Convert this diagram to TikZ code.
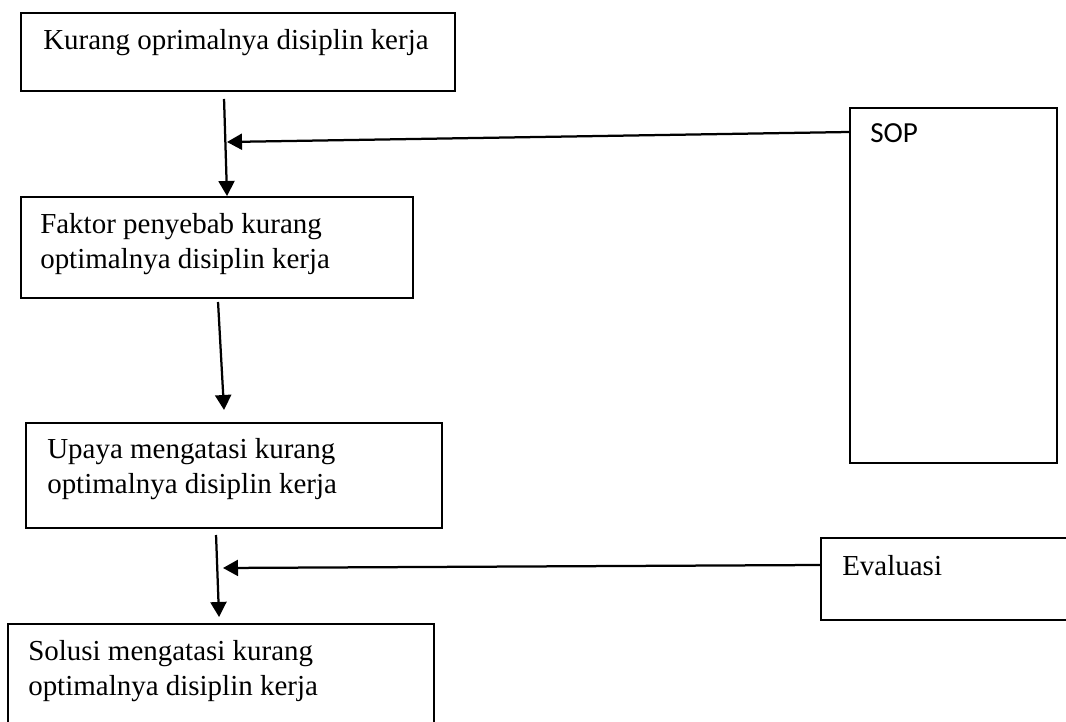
\documentclass[tikz,border=0pt]{standalone}
\usepackage{fontspec}
\setmainfont{Liberation Serif}
\newfontfamily\sopfont{Carlito}
\usetikzlibrary{arrows.meta,calc}

\tikzset{
    box/.style={draw, line width=1.4pt, anchor=north west, inner sep=0pt},
    txt/.style={anchor=base west, inner sep=0pt, align=left,
        font=\fontsize{20.6}{24.8}\selectfont},
    flow/.style={line width=1.6pt, -{Triangle[length=0.375cm, width=0.4cm]}}
}

\begin{document}
\begin{tikzpicture}[x=0.025cm, y=-0.025cm]

    \useasboundingbox (0,0) rectangle (1066,722);
    \clip (0,0) rectangle (1066,722);

    % Main flow boxes
    \node[box, minimum width=10.85cm, minimum height=1.95cm] (b1) at (20,12) {};
    \node[box, minimum width=9.8cm, minimum height=2.525cm] (b2) at (20,196) {};
    \node[box, minimum width=10.4cm, minimum height=2.625cm] (b3) at (25,422) {};
    \node[box, minimum width=10.65cm, minimum height=3.425cm] (b4) at (7,623) {};

    % Side boxes
    \node[box, minimum width=5.175cm, minimum height=8.875cm] (sop) at (849,107) {};
    \node[box, minimum width=7cm, minimum height=2.05cm] (ev) at (820,537) {};

    % Box texts (base = last line)
    \node[txt] (t1) at (43,50) {Kurang oprimalnya disiplin kerja};
    \node[txt] (t2) at (40,268) {Faktor penyebab kurang\\optimalnya disiplin kerja};
    \node[txt] (t3) at (47,493) {Upaya mengatasi kurang\\optimalnya disiplin kerja};
    \node[txt] (t4) at (28,695) {Solusi mengatasi kurang\\optimalnya disiplin kerja};
    \node[txt, font=\sopfont\fontsize{20.7}{24}\selectfont] (tsop) at (870,143) {SOP};
    \node[txt] (tev) at (842,575) {Evaluasi};

    % Vertical arrows
    \draw[flow] ($(b1.south)+(-14,7)$) -- ($(b2.north)+(10,0)$);
    \draw[flow] ($(b2.south)+(1,3)$) -- ($(b3.north)+(-10,-12)$);
    \draw[flow] ($(b3.south)+(-18,6)$) -- ($(b4.north)+(-2,-6)$);

    % Side inputs
    \coordinate (m1) at (227,142);
    \coordinate (m2) at (223,568);
    \draw[flow] ($(sop.north west)+(0,25)$) -- (m1);
    \draw[flow] ($(ev.west)+(0,-14)$) -- (m2);

\end{tikzpicture}
\end{document}
